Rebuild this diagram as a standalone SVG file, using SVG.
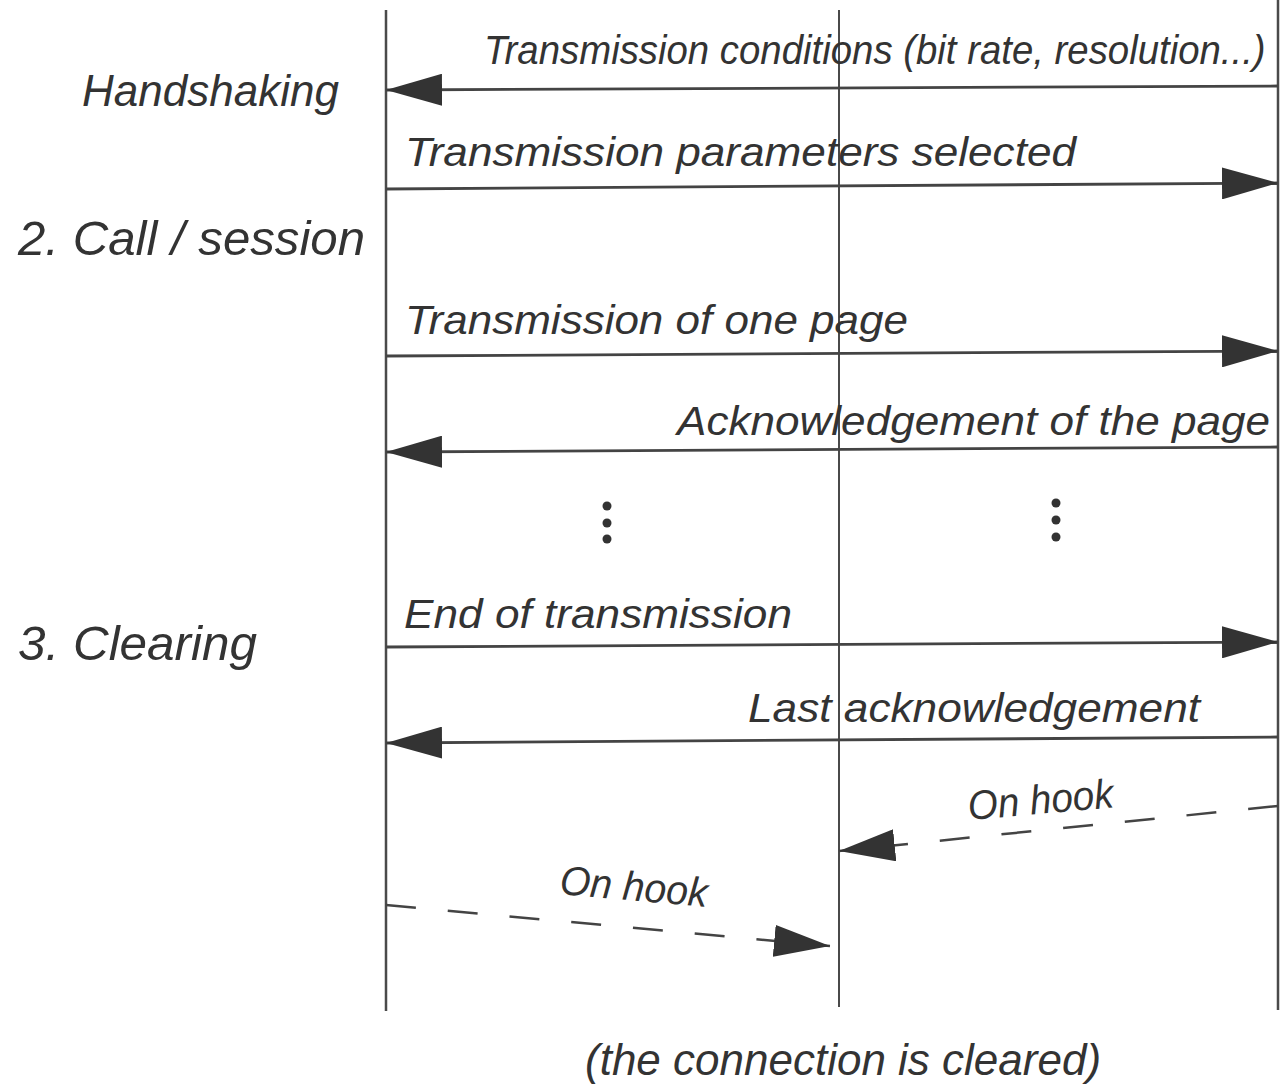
<svg xmlns="http://www.w3.org/2000/svg" width="1280" height="1085" viewBox="0 0 1280 1085">
<style>
.life{stroke:#4a4a4a;stroke-width:2.5;fill:none}
.msg{stroke:#444;stroke-width:2.8;fill:none;marker-end:url(#ah)}
.dash{stroke:#444;stroke-width:2.5;fill:none;stroke-dasharray:30 32;marker-end:url(#ah)}
.lbl{font-family:"Liberation Sans",Arial,sans-serif;font-style:italic;font-size:41px;fill:#333}
.phase{font-family:"Liberation Sans",Arial,sans-serif;font-style:italic;fill:#333}
.dot{fill:#333}
</style>
<defs>
<marker id="ah" viewBox="0 0 56 32" refX="56" refY="16" markerWidth="56" markerHeight="32" markerUnits="userSpaceOnUse" orient="auto">
<path d="M0,0 L56,16 L0,32 z" fill="#333"/>
</marker>
</defs>
<rect width="1280" height="1085" fill="#fff"/>
<g id="lifelines">
<line class="life" x1="386" y1="10" x2="386" y2="1011"/>
<line class="life" x1="839" y1="10" x2="839" y2="1007" style="stroke-width:2"/>
<line class="life" x1="1278" y1="0" x2="1278" y2="1010"/>
</g>
<g id="phases">
<text class="phase" x="82" y="106" font-size="44">Handshaking</text>
<text class="phase" x="18" y="255" font-size="48" textLength="347" lengthAdjust="spacingAndGlyphs">2. Call / session</text>
<text class="phase" x="18" y="660" font-size="48" textLength="239" lengthAdjust="spacingAndGlyphs">3. Clearing</text>
<text class="phase" x="585" y="1075" font-size="44">(the connection is cleared)</text>
</g>
<g id="connectors">
<line class="msg" x1="1278" y1="86" x2="386" y2="90"/>
<line class="msg" x1="386" y1="189" x2="1278" y2="183"/>
<line class="msg" x1="386" y1="356" x2="1278" y2="351"/>
<line class="msg" x1="1278" y1="447" x2="386" y2="452"/>
<line class="msg" x1="386" y1="647" x2="1278" y2="642"/>
<line class="msg" x1="1278" y1="737" x2="386" y2="743"/>
<line class="dash" x1="1278" y1="806" x2="839" y2="851"/>
<line class="dash" x1="386" y1="905" x2="830" y2="946"/>
</g>
<g id="labels">
<text class="lbl" x="0" y="0" textLength="977" lengthAdjust="spacingAndGlyphs" transform="translate(484 64) scale(0.8 1)">Transmission conditions (bit rate, resolution...)</text>
<text class="lbl" x="405" y="166" textLength="671" lengthAdjust="spacingAndGlyphs">Transmission parameters selected</text>
<text class="lbl" x="405" y="334" textLength="503" lengthAdjust="spacingAndGlyphs">Transmission of one page</text>
<text class="lbl" x="677" y="435" textLength="593" lengthAdjust="spacingAndGlyphs">Acknowledgement of the page</text>
<text class="lbl" x="404" y="628" textLength="388" lengthAdjust="spacingAndGlyphs">End of transmission</text>
<text class="lbl" x="748" y="722" textLength="452" lengthAdjust="spacingAndGlyphs">Last acknowledgement</text>
<text class="lbl" x="969" y="820" textLength="146" lengthAdjust="spacingAndGlyphs" transform="rotate(-5 969 820)">On hook</text>
<text class="lbl" x="559" y="894" textLength="148" lengthAdjust="spacingAndGlyphs" transform="rotate(5 559 894)">On hook</text>
</g>
<g id="ellipsis">
<circle class="dot" cx="607" cy="506" r="4.5"/>
<circle class="dot" cx="607" cy="523" r="4.5"/>
<circle class="dot" cx="607" cy="539" r="4.5"/>
<circle class="dot" cx="1056" cy="503" r="4.5"/>
<circle class="dot" cx="1056" cy="520" r="4.5"/>
<circle class="dot" cx="1056" cy="537" r="4.5"/>
</g>
</svg>
